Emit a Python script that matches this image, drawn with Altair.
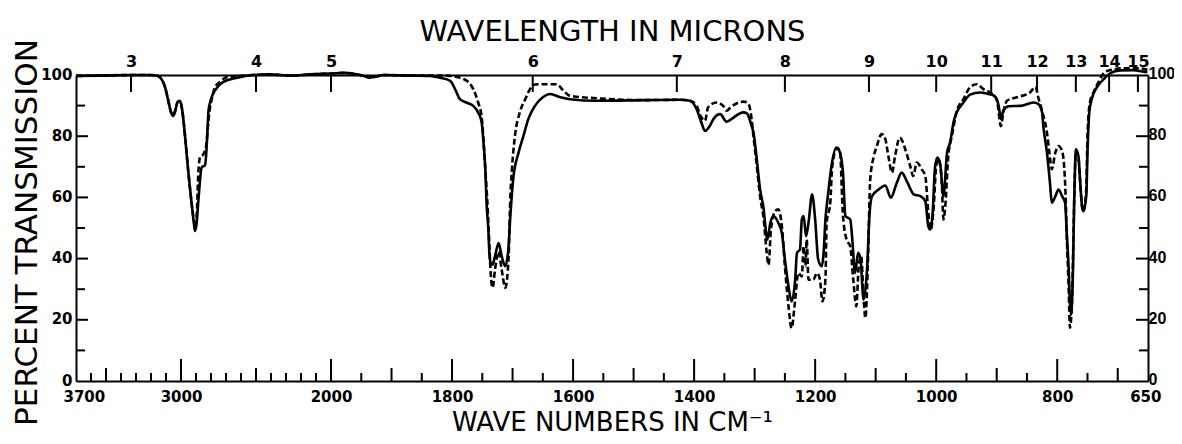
import altair as alt
import pandas as pd

# ---- data: (wavenumber cm-1, percent transmission) ----
solid = [(3700,99.7),(3540,99.8),(3340,100),(3207,100),(3153,99.7),(3127,98.4),(3107,96.1),(3087,92.1),
 (3067,87.9),(3053,86.6),(3040,87.9),(3023,91.1),(3007,91.6),(2993,88.9),(2973,80.0),(2953,69.2),(2930,58.4),
 (2913,51.1),(2907,49.0),(2897,51.1),(2885,58.4),(2862,69.8),(2840,70.5),(2830,75.7),(2823,82.3),(2817,88.2),
 (2800,92.1),(2767,95.4),(2720,97.7),(2633,99.0),(2520,100),(2407,100.2),(2273,99.8),(2140,100.2),(2000,100.5),
 (1977,100.7),(1952,100),(1936,99.2),(1911,100),(1869,99.8),(1836,99.7),(1820,99.1),(1803,98.1),(1795,95.4),
 (1787,92.1),(1776,91.0),(1765,89.9),(1757,87.8),(1751,84.5),(1748,77.9),(1745,69.2),(1743,58.3),(1740,49.5),
 (1738,40.8),(1736,38.6),(1733,38.0),(1729,40.8),(1723,45.1),(1718,40.8),(1712,37.5),(1707,43.0),(1704,52.8),
 (1699,65.9),(1690,74.7),(1682,80.1),(1674,85.6),(1663,89.9),(1650,92.7),(1638,93.8),(1621,92.7),(1605,92.1),
 (1561,91.6),(1478,91.8),(1423,91.9),(1407,91.6),(1396,88.9),(1388,84.5),(1382,81.7),(1374,83.4),(1368,85.6),
 (1357,87.2),(1346,84.7),(1335,86.1),(1319,87.8),(1313,87.5),(1305,83.4),(1302,81.3),(1297,73.5),(1291,62.6),
 (1285,56.1),(1281,48.4),(1279,46.2),(1274,51.7),(1269,53.9),(1261,51.7),(1255,48.4),(1250,39.7),(1244,30.9),
 (1239,26.0),(1233,33.1),(1230,41.9),(1225,43.0),(1222,52.8),(1219,53.9),(1215,47.3),(1211,51.7),(1205,61.0),
 (1200,52.8),(1195,39.7),(1189,37.5),(1186,41.9),(1183,52.8),(1179,60.4),(1173,70.3),(1165,76.3),(1160,75.2),
 (1154,68.1),(1150,53.9),(1142,52.8),(1139,47.3),(1134,35.3),(1129,41.9),(1125,39.7),(1120,26.6),(1114,37.5),
 (1110,55.0),(1106,60.4),(1095,62.6),(1084,63.9),(1075,59.9),(1065,64.8),(1057,68.1),(1048,65.1),(1037,61.0),
 (1026,60.4),(1018,58.8),(1013,50.6),(1010,49.5),(1006,54.4),(1002,69.7),(998,73.0),(993,70.3),(988,60.4),
 (982,74.7),(977,77.9),(971,84.9),(966,87.8),(955,91.0),(944,93.6),(927,94.3),(914,93.8),(905,93.3),(897,90.2),
 (893,85.6),(889,88.5),(880,89.8),(861,89.9),(839,91.0),(831,90.5),(825,87.8),(823,83.4),(817,74.7),(812,64.8),
 (809,58.3),(803,60.4),(798,62.6),(792,60.4),(787,58.3),(784,47.3),(781,36.4),(779,25.5),(777,21.6),(774,36.4),
 (772,58.3),(769,75.7),(765,73.5),(762,64.8),(759,57.1),(757,55.5),(752,60.4),(750,74.7),(747,87.8),(743,92.1),
 (734,96.1),(723,98.7),(712,100.6),(696,101.5),(674,101.6),(657,101.1),(651,101.0)]

dashed = [(3700,99.7),(3540,99.8),(3340,100),(3207,100),(3153,99.7),(3127,98.4),(3107,96.1),(3087,92.1),
 (3067,87.9),(3053,86.9),(3040,88.2),(3023,91.1),(3007,91.5),(2993,88.9),(2973,80.0),(2953,69.2),(2930,58.4),
 (2913,52.1),(2907,50.2),(2895,54.4),(2885,67.5),(2873,73.1),(2851,74.1),(2833,76.7),(2822,82.3),(2811,87.9),
 (2795,92.1),(2773,96.1),(2740,97.7),(2695,99.3),(2607,99.7),(2520,100),(2407,100.2),(2273,99.8),(2140,100.2),
 (2000,100.5),(1977,100.7),(1952,100),(1936,99.2),(1911,100),(1869,99.8),(1836,99.8),(1809,99.8),(1781,98.7),
 (1765,95.4),(1757,91.1),(1751,86.2),(1748,78.7),(1745,69.2),(1741,56.1),(1738,43.0),(1736,34.8),(1733,30.5),
 (1729,36.4),(1723,42.3),(1718,36.4),(1712,30.5),(1708,35.7),(1706,43.0),(1704,58.3),(1701,69.2),(1696,80.1),
 (1688,87.8),(1679,92.1),(1671,95.4),(1663,96.9),(1649,97.0),(1627,97.0),(1616,94.9),(1605,93.2),(1561,92.4),
 (1478,91.8),(1423,91.9),(1407,91.6),(1396,90.0),(1388,86.1),(1382,85.0),(1377,89.4),(1363,91.0),(1352,89.9),
 (1346,88.3),(1340,89.4),(1318,91.3),(1310,90.5),(1305,85.6),(1302,80.1),(1297,71.4),(1291,60.4),(1285,52.8),
 (1280,41.9),(1277,38.0),(1273,49.5),(1266,55.5),(1261,56.1),(1255,50.6),(1250,37.5),(1244,24.4),(1239,17.3),
 (1233,26.6),(1228,35.3),(1222,34.2),(1219,44.0),(1216,37.5),(1214,46.2),(1211,33.1),(1203,33.1),(1197,35.3),
 (1192,33.1),(1188,26.0),(1183,33.1),(1181,51.7),(1175,58.3),(1172,69.8),(1164,76.1),(1159,75.1),(1154,53.9),
 (1148,46.2),(1142,44.0),(1137,33.1),(1132,24.4),(1128,37.5),(1124,40.8),(1120,27.6),(1117,20.6),(1113,37.5),
 (1109,65.9),(1103,73.5),(1098,76.8),(1090,80.7),(1084,79.0),(1079,73.5),(1073,68.1),(1068,73.5),(1060,79.5),
 (1051,75.7),(1043,70.3),(1038,67.0),(1032,71.4),(1024,69.2),(1018,67.0),(1013,55.0),(1009,49.5),(1004,57.1),
 (1000,70.3),(996,72.5),(991,65.9),(988,52.8),(985,57.1),(980,73.5),(974,80.1),(966,88.2),(955,92.1),(944,96.0),
 (933,97.0),(922,95.4),(911,94.3),(900,92.1),(893,83.3),(889,87.8),(883,91.6),(867,92.7),(845,94.3),(836,96.1),
 (831,92.4),(825,88.2),(817,81.2),(813,74.7),(809,69.2),(803,74.7),(798,76.8),(792,75.2),(787,64.8),(784,46.2),
 (781,29.8),(779,17.4),(775,29.8),(772,58.3),(769,75.1),(765,73.1),(762,64.8),(759,57.1),(757,55.4),(752,62.6),
 (750,80.1),(746,91.0),(740,94.3),(732,97.6),(721,101.0),(707,101.8),(691,102.2),(669,102.2),(655,101.9),(651,101.7)]

# ---- axis tick values ----
wn_labels = [3700, 3000, 2000, 1800, 1600, 1400, 1200, 1000, 800, 650]
wn_ticks_big = [3000, 2000, 1800, 1600, 1400, 1200, 1000, 800]
wn_ticks_medium = [3500, 2500, 1900, 1700, 1500, 1300, 1100, 900, 700]
wn_ticks_small = [3600, 3400, 3300, 3200, 3100, 2900, 2800, 2700, 2600, 2400, 2300, 2200, 2100,
                  1950, 1850, 1750, 1650, 1550, 1450, 1350, 1250, 1150, 1050, 950, 850, 750]
microns = [3, 4, 5, 6, 7, 8, 9, 10, 11, 12, 13, 14, 15]
pct_labels = [0, 20, 40, 60, 80, 100]
pct_major = [20, 40, 60, 80]
pct_minor = [10, 30, 50, 70, 90]

W, H = 1072, 306
FONT = "DejaVu Sans"

df_solid = pd.DataFrame(solid, columns=["wn", "t"])
df_dashed = pd.DataFrame(dashed, columns=["wn", "t"])
micron_wn = [10000.0 / m for m in microns]

xscale = alt.Scale(domain=[3700, 2000, 650], range=[0, 255, W], nice=False, zero=False)
yscale = alt.Scale(domain=[0, 100], nice=False, zero=False)

common_axis = dict(ticks=False, tickSize=0, domain=True, domainColor="black", domainWidth=2,
                   grid=False, labelFontWeight="bold", labelColor="black", labelOverlap=False,
                   titleFont=FONT, titleFontWeight="normal", titleColor="black")

bottom_axis = alt.Axis(orient="bottom", values=wn_labels, format="d", labelPadding=8,
                       labelFont=FONT, labelFontSize=15,
                       labelFlush=True, labelFlushOffset=13,
                       title="WAVE NUMBERS IN CM⁻¹", titleFontSize=26, titleY=49.5,
                       titleBaseline="alphabetic", **common_axis)
top_axis = alt.Axis(orient="top", values=micron_wn, labelExpr="'' + round(10000 / datum.value)",
                    labelFont=FONT, labelFontSize=16, labelPadding=6, labelFlush=False,
                    title="WAVELENGTH IN MICRONS", titleFontSize=29, titleY=-35,
                    titleBaseline="alphabetic", **common_axis)
left_axis = alt.Axis(orient="left", values=pct_labels, labelPadding=4, labelFlush=False,
                     labelFont=FONT, labelFontSize=15, labelOffset=-1,
                     title="PERCENT TRANSMISSION", titleFontSize=31, titleX=-40, titleY=157,
                     titleBaseline="alphabetic", **common_axis)
right_axis = alt.Axis(orient="right", values=pct_labels, labelPadding=0, labelFlush=False,
                      labelFont="Liberation Sans", labelFontSize=16, labelOffset=-1.5,
                      title="", **common_axis)

solid_line = alt.Chart(df_solid).mark_line(color="black", strokeWidth=2.6, interpolate="monotone").encode(
    x=alt.X("wn:Q", scale=xscale, axis=bottom_axis),
    y=alt.Y("t:Q", scale=yscale, axis=left_axis),
)
dashed_line = alt.Chart(df_dashed).mark_line(color="black", strokeWidth=2.6, strokeDash=[6, 3],
                                             interpolate="monotone").encode(
    x=alt.X("wn:Q", scale=xscale, axis=top_axis),
    y=alt.Y("t:Q", scale=yscale, axis=right_axis),
)

def xticks(values, length):
    return alt.Chart(pd.DataFrame({"wn": values})).mark_rule(color="black", strokeWidth=2).encode(
        x=alt.X("wn:Q", scale=xscale, axis=None),
        y=alt.value(H), y2=alt.value(H - length))

def yticks(values, x0, x1):
    return alt.Chart(pd.DataFrame({"t": values})).mark_rule(color="black", strokeWidth=2).encode(
        y=alt.Y("t:Q", scale=yscale, axis=None),
        x=alt.value(x0), x2=alt.value(x1))

top_ticks = alt.Chart(pd.DataFrame({"wn": micron_wn})).mark_rule(color="black", strokeWidth=2).encode(
    x=alt.X("wn:Q", scale=xscale, axis=None), y=alt.value(0), y2=alt.value(17))

chart = alt.layer(
    solid_line, dashed_line,
    xticks(wn_ticks_big, 22), xticks(wn_ticks_medium, 13), xticks(wn_ticks_small, 8),
    top_ticks,
    yticks(pct_major, 0, 12), yticks(pct_minor, 0, 9),
    yticks(pct_major, W, W - 12), yticks(pct_minor, W, W - 9),
).resolve_axis(x="independent", y="independent").properties(
    width=W, height=H,
    padding={"left": 68, "top": 67, "right": 26, "bottom": 55},
    autosize=alt.AutoSizeParams(type="none"),
).configure_view(stroke=None).configure(background="white")

chart.save("out.html", embed_options={"renderer": "svg", "actions": False})
